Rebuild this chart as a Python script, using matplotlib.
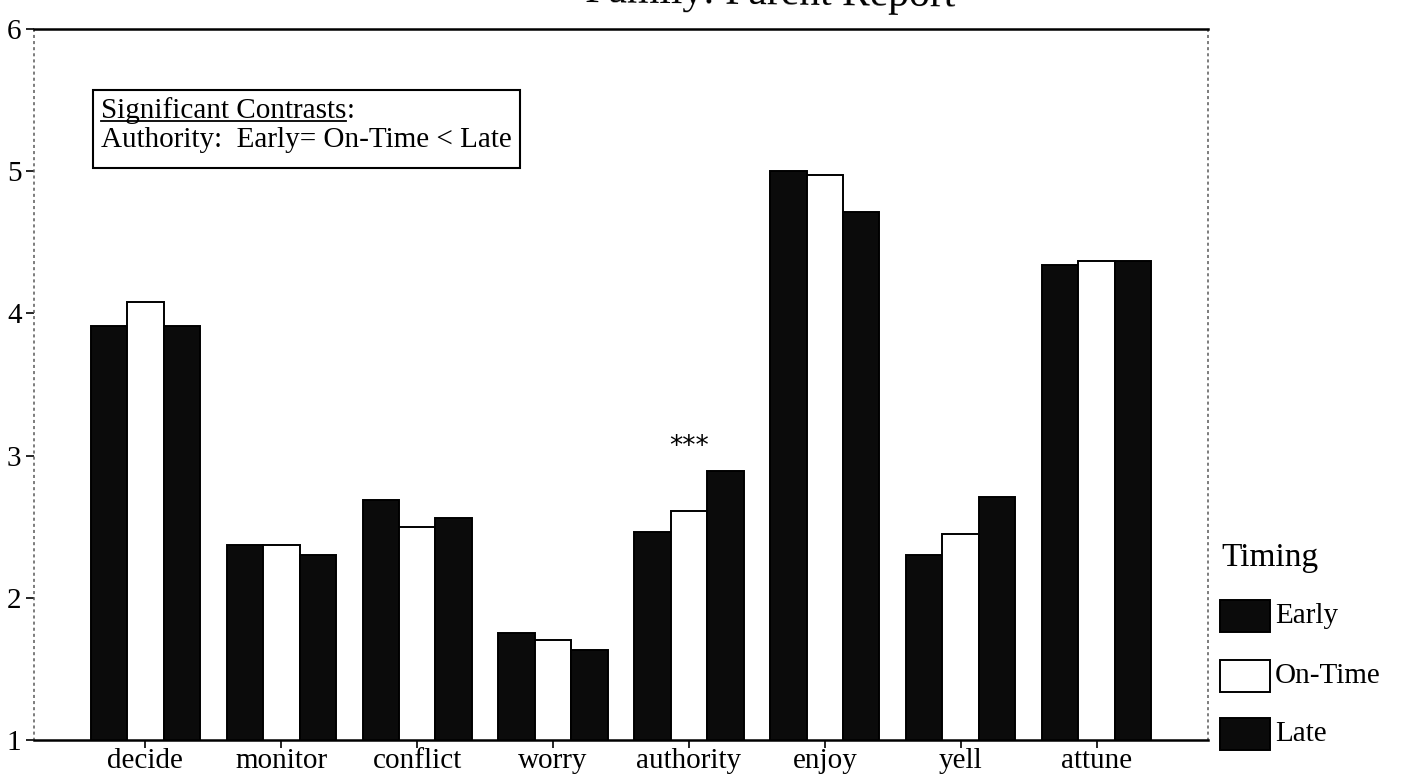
import numpy as np
import matplotlib
matplotlib.use("Agg")
import matplotlib.pyplot as plt
from matplotlib.patches import Rectangle
from matplotlib.lines import Line2D

# ---- data -------------------------------------------------------------
categories = ["decide", "monitor", "conflict", "worry",
              "authority", "enjoy", "yell", "attune"]
timing_groups = ["Early", "On-Time", "Late"]
early = [3.91, 2.37, 2.69, 1.75, 2.46, 5.00, 2.30, 4.34]
on_time = [4.08, 2.37, 2.50, 1.70, 2.61, 4.97, 2.45, 4.37]
late = [3.91, 2.30, 2.56, 1.63, 2.89, 4.71, 2.71, 4.37]
y_ticks = [1, 2, 3, 4, 5, 6]
title_text = "Family: Parent Report"
contrast_heading = "Significant Contrasts"
contrast_line = "Authority:  Early= On-Time < Late"
sig_marker = "***"
sig_category = "authority"

face_colors = ["#0b0b0b", "white", "#0b0b0b"]
series = [early, on_time, late]

plt.rcParams["font.family"] = ["Liberation Serif", "DejaVu Serif"]

W, H = 1401, 783
fig = plt.figure(figsize=(W / 100, H / 100), dpi=100)
fig.patch.set_facecolor("white")


def fx(px):
    return px / W


def fy(py):
    return 1 - py / H


# axes frame in pixel terms
ax_left, ax_right, ax_top, ax_bottom = 34, 1208, 29, 740
ax = fig.add_axes([fx(ax_left), fy(ax_bottom),
                   fx(ax_right - ax_left), (ax_bottom - ax_top) / H])

x = np.arange(len(categories))
bw = 0.268
offsets = [-bw, 0.0, bw]
for vals, off, fc in zip(series, offsets, face_colors):
    ax.bar(x + off, vals, width=bw, color=fc, edgecolor="black",
           linewidth=1.4, zorder=2)

ax.set_xlim(-0.82, len(categories) - 1 + 0.82)
ax.set_ylim(y_ticks[0], y_ticks[-1])
ax.set_yticks(y_ticks)
ax.set_yticklabels([str(t) for t in y_ticks])
ax.set_xticks(x)
ax.set_xticklabels(categories)
ax.tick_params(axis="y", direction="out", length=6, width=1.2,
               labelsize=21, pad=3, colors="black")
ax.tick_params(axis="x", direction="out", length=6, width=1.2,
               labelsize=21, pad=0, colors="black")

for side in ("top", "bottom"):
    ax.spines[side].set_color("black")
    ax.spines[side].set_linewidth(1.8)
for side in ("left", "right"):
    ax.spines[side].set_color("0.35")
    ax.spines[side].set_linewidth(1.1)
    ax.spines[side].set_linestyle((0, (1, 3)))

# significance marker above the authority group
si = categories.index(sig_category)
top_val = max(early[si], on_time[si], late[si])
ax.text(x[si], top_val + 0.17, sig_marker, ha="center", va="center",
        fontsize=19, family="DejaVu Sans", color="black")

# title (runs off the top edge of the page, slightly tilted)
fig.text(fx(955), fy(7), title_text, ha="right", va="baseline",
         fontsize=30, color="black", rotation=-0.7, rotation_mode="anchor")

# ---- contrast box ----------------------------------------------------
fig.canvas.draw()
renderer = fig.canvas.get_renderer()
tx = 101
t1 = fig.text(fx(tx), fy(118), contrast_heading, ha="left", va="baseline",
              fontsize=21, color="black")
t2 = fig.text(fx(tx), fy(147), contrast_line, ha="left", va="baseline",
              fontsize=21, color="black")
bb1 = t1.get_window_extent(renderer)
bb2 = t2.get_window_extent(renderer)
fig.text(bb1.x1 / W, fy(118), ":", ha="left", va="baseline",
         fontsize=21, color="black")
underline_y = fy(121)
fig.add_artist(Line2D([bb1.x0 / W, bb1.x1 / W], [underline_y, underline_y],
                      transform=fig.transFigure, color="black", lw=1.3))
box_right = bb2.x1 + 8
fig.add_artist(Rectangle((fx(93), fy(168)), (box_right - 93) / W,
                         (168 - 90) / H, transform=fig.transFigure,
                         facecolor="none", edgecolor="black", lw=1.5))

# ---- legend ----------------------------------------------------------
fig.text(fx(1221), fy(558), "Timing", ha="left", va="center",
         fontsize=24, color="black")
row_centres = [616, 676, 734]
for name, fc, yc in zip(timing_groups, face_colors, row_centres):
    fig.add_artist(Rectangle((fx(1220), fy(yc + 16)), 50 / W, 32 / H,
                             transform=fig.transFigure, facecolor=fc,
                             edgecolor="black", lw=1.4))
    fig.text(fx(1275), fy(yc), name, ha="left", va="center",
             fontsize=21, color="black")

fig.savefig("out.png", dpi=100, facecolor="white")
